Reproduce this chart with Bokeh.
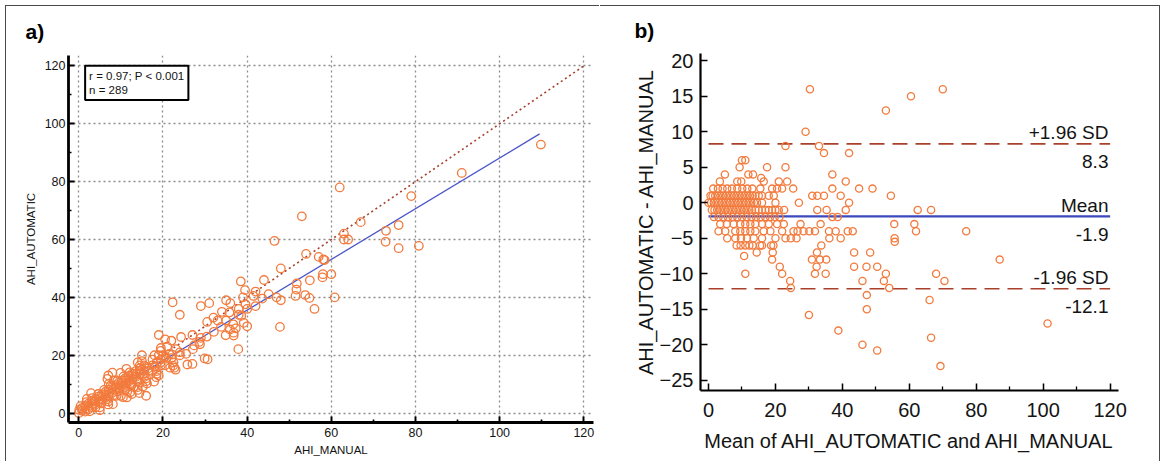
import numpy as np
from bokeh.plotting import figure
from bokeh.models import FixedTicker, Label, ColumnDataSource, Range1d
from bokeh.embed import file_html
from bokeh.resources import INLINE
from bokeh.core.properties import value

# ---------------- data ----------------
# paired AHI readings (manual scoring, automatic scoring); grouped by their difference
ahi_manual = [
    7, 8,
    6.8, 15, 20.5,
    2.9, 9.9, 11.3, 35,
    14,
    1.9, 7.1, 8.3, 15, 19.5, 22, 39.5,
    0.4, 1.8, 3.2, 4.6, 6, 7.6, 9.1, 10.6, 12.1, 14.5, 18, 19.5, 21, 24.3, 36, 44, 48,
    0.1, 0.7, 1.5, 2.3, 3.1, 3.9, 4.7, 5.5, 6.3, 7.1, 7.9, 8.7, 9.5, 10.3, 11.1, 11.9,
    12.7, 13.5, 14.5, 15.5, 17.5, 19, 30.5, 32, 34, 39, 54,
    0, 0.8, 1.6, 2.4, 3.2, 4, 4.8, 5.6, 6.4, 7.2, 8, 8.8, 9.6, 10.4, 11.2, 12, 12.8,
    13.6, 14.5, 16, 20, 27, 42,
    1.5, 2.3, 3.1, 3.9, 4.7, 5.5, 6.3, 7.1, 7.9, 8.7, 9.5, 10.3, 11.1, 11.9, 12.7, 13.5,
    14.5, 15.5, 16.5, 17.5, 18.5, 19.5, 20.5, 21.5, 23.1, 33, 35.8, 41.5, 63, 67,
    2.6, 4, 5.4, 6.8, 8.2, 9.6, 11, 12.4, 13.8, 15.2, 16.6, 18, 19.4, 20.8, 22.2, 38, 39.6,
    5, 7, 9, 11, 12.5, 14, 15.5, 17.5, 19.5, 22, 24, 29, 35, 57, 63,
    5, 7, 10, 11.5, 13, 14.5, 16, 18.5, 20.5, 24, 27.4, 28.6, 30.4, 32.1, 33.8, 38, 40,
    43.6, 45.1, 64, 79,
    8.1, 10.5, 12.2, 14, 16, 18.5, 22.5, 25.5, 27.1, 28.8, 38.6, 42, 58.1,
    58.4,
    11.4, 12.6, 14, 15.2, 16.2, 18.4, 19, 21.7, 22.4, 36.7,
    17.9, 22.7, 35.9, 47, 51.8,
    14.4,
    23, 34.9, 37.3, 39.2, 91,
    25.8, 36.8, 48, 51.7, 54.9,
    16, 27, 36.8, 40, 58, 73,
    29.9, 51.5, 57.9, 76,
    30.6, 60,
    53.8, 72.9, 54.8, 37.9, 109.8, 47.8, 76, 56, 60.8, 80.8,
    22.3, 53, 62, 46.5, 24, 19, 29, 31, 38.5,
]
ahi_automatic = [
    13, 14,
    11.8, 20, 25.5,
    6.9, 13.9, 15.3, 39,
    17.5,
    4.9, 10.1, 11.3, 18, 22.5, 25, 42.5,
    2.4, 3.8, 5.2, 6.6, 8, 9.6, 11.1, 12.6, 14.1, 16.5, 20, 21.5, 23, 26.3, 38, 46, 50,
    1.1, 1.7, 2.5, 3.3, 4.1, 4.9, 5.7, 6.5, 7.3, 8.1, 8.9, 9.7, 10.5, 11.3, 12.1, 12.9,
    13.7, 14.5, 15.5, 16.5, 18.5, 20, 31.5, 33, 35, 40, 55,
    0, 0.8, 1.6, 2.4, 3.2, 4, 4.8, 5.6, 6.4, 7.2, 8, 8.8, 9.6, 10.4, 11.2, 12, 12.8,
    13.6, 14.5, 16, 20, 27, 42,
    0.5, 1.3, 2.1, 2.9, 3.7, 4.5, 5.3, 6.1, 6.9, 7.7, 8.5, 9.3, 10.1, 10.9, 11.7, 12.5,
    13.5, 14.5, 15.5, 16.5, 17.5, 18.5, 19.5, 20.5, 22.1, 32, 34.8, 40.5, 62, 66,
    0.6, 2, 3.4, 4.8, 6.2, 7.6, 9, 10.4, 11.8, 13.2, 14.6, 16, 17.4, 18.8, 20.2, 36, 37.6,
    2, 4, 6, 8, 9.5, 11, 12.5, 14.5, 16.5, 19, 21, 26, 32, 54, 60,
    1, 3, 6, 7.5, 9, 10.5, 12, 14.5, 16.5, 20, 23.4, 24.6, 26.4, 28.1, 29.8, 34, 36,
    39.6, 41.1, 60, 75,
    3.1, 5.5, 7.2, 9, 11, 13.5, 17.5, 20.5, 22.1, 23.8, 33.6, 37, 53.1,
    52.9,
    5.4, 6.6, 8, 9.2, 10.2, 12.4, 13, 15.7, 16.4, 30.7,
    10.9, 15.7, 28.9, 40, 44.8,
    6.9,
    15, 26.9, 29.3, 31.2, 83,
    16.8, 27.8, 39, 42.7, 45.9,
    6, 17, 26.8, 30, 48, 63,
    18.9, 40.5, 46.9, 65,
    18.6, 48,
    40.8, 59.2, 39.8, 22.1, 92.8, 29.8, 57, 36, 40, 57.8,
    38.3, 68, 78, 59.5, 34, 27, 37, 38, 45.5,
]
identity_x = [0, 120]
identity_y = [0, 120]
fit_x = [0.3, 109.5]          # regression line ends
fit_y = [0.8, 96.5]
stats_text = "r = 0.97; P < 0.001\nn = 289"

loa_values = [8.3, -1.9, -12.1]           # +1.96 SD, mean, -1.96 SD
loa_titles = ["+1.96 SD", "Mean", "-1.96 SD"]
loa_numbers = ["8.3", "-1.9", "-12.1"]
loa_x = [0, 120]

scatter_ticks = [0, 20, 40, 60, 80, 100, 120]
scatter_minor = [10, 30, 50, 70, 90, 110]
ba_xticks = [0, 20, 40, 60, 80, 100, 120]
ba_xminor = [10, 30, 50, 70, 90, 110]
ba_yticks = [-25, -20, -15, -10, -5, 0, 5, 10, 15, 20]

# Bland-Altman coordinates from the pairs
m = np.array(ahi_manual, dtype=float)
a = np.array(ahi_automatic, dtype=float)
ba_mean = (m + a) / 2.0
ba_diff = a - m

FONT = "Liberation Sans"
ORANGE = "#f27b3d"
BLUE = "#3c48bd"
RED = "#a8402c"
INK = "#141414"
FRAME = "1px solid #4a4a4a"


def style_axis(ax, lw, tick_fs, lab_fs, tstand, lstand, tin, minin):
    ax.axis_line_color = "black"
    ax.axis_line_width = lw
    ax.major_tick_line_color = "black"
    ax.major_tick_line_width = lw * 0.7
    ax.minor_tick_line_color = "black"
    ax.minor_tick_line_width = lw * 0.6
    ax.major_tick_in = tin
    ax.major_tick_out = 0
    ax.minor_tick_in = minin
    ax.minor_tick_out = 0
    ax.major_label_text_font = FONT
    ax.major_label_text_font_size = tick_fs
    ax.major_label_text_color = INK
    ax.major_label_standoff = tstand
    ax.axis_label_text_font = FONT
    ax.axis_label_text_font_size = lab_fs
    ax.axis_label_text_font_style = "normal"
    ax.axis_label_text_color = INK
    ax.axis_label_standoff = lstand


def style_title(p, text, offset, standoff):
    p.title.text = text
    p.title.align = "left"
    p.title.vertical_align = "top"
    p.title.offset = offset
    p.title.standoff = standoff
    p.title.text_font = FONT
    p.title.text_font_size = "21px"
    p.title.text_font_style = "bold"
    p.title.text_color = "black"


# ---------------- panel a: scatter ----------------
pa = figure(width=594, height=456, output_backend="svg", toolbar_location=None,
            x_range=Range1d(-2.45, 122.3), y_range=Range1d(-3.25, 123.6),
            min_border_left=62, min_border_right=7, min_border_top=49, min_border_bottom=40,
            x_axis_label="AHI_MANUAL", y_axis_label="AHI_AUTOMATIC",
            styles={"position": "absolute", "left": "5px", "top": "5px",
                    "border-top": FRAME, "border-left": FRAME})
pa.outline_line_color = None
pa.xaxis.ticker = FixedTicker(ticks=scatter_ticks, minor_ticks=scatter_minor)
pa.yaxis.ticker = FixedTicker(ticks=scatter_ticks, minor_ticks=scatter_minor)
style_axis(pa.xaxis[0], 2.8, "12.5px", "11.5px", 5, 4, 6, 3)
style_axis(pa.yaxis[0], 2.8, "12.5px", "11.5px", 3, 5, 6, 3)
for g in (pa.xgrid[0], pa.ygrid[0]):
    g.grid_line_color = "#8c8c8c"
    g.grid_line_dash = "2 3"
    g.grid_line_width = 1.3
pa.xgrid.ticker = FixedTicker(ticks=scatter_ticks)
pa.ygrid.ticker = FixedTicker(ticks=scatter_ticks)
style_title(pa, "a)", -43, 22)

pa.line(identity_x, identity_y, line_color=RED, line_dash="2 3", line_width=1.6)
pa.line(fit_x, fit_y, line_color="#4b55c8", line_width=1.3)
pa.scatter(x=ahi_manual, y=ahi_automatic, marker="circle", size=8.5,
           fill_color=None, line_color=ORANGE, line_width=1.3)

pa.add_layout(Label(x=1.5, y=120.1, text=stats_text, text_font=FONT, text_font_size="11.5px",
                    text_color=INK, text_align="left", text_baseline="top",
                    padding=4, border_line_color="black", border_line_width=2,
                    background_fill_color="white", text_line_height=1.2))

# ---------------- panel b: Bland-Altman ----------------
pb = figure(width=560, height=456, output_backend="svg", toolbar_location=None,
            x_range=Range1d(-2.39, 122.5), y_range=Range1d(-26.44, 21.03),
            min_border_left=100, min_border_right=42, min_border_top=47, min_border_bottom=72,
            x_axis_label="Mean of AHI_AUTOMATIC and AHI_MANUAL",
            y_axis_label="AHI_AUTOMATIC - AHI_MANUAL",
            styles={"position": "absolute", "left": "600px", "top": "5px",
                    "border-top": FRAME, "border-right": FRAME})
pb.outline_line_color = None
pb.xgrid.visible = False
pb.ygrid.visible = False
pb.xaxis.ticker = FixedTicker(ticks=ba_xticks, minor_ticks=ba_xminor)
pb.yaxis.ticker = FixedTicker(ticks=ba_yticks)
style_axis(pb.xaxis[0], 2.2, "20px", "20px", 12, 10, 7, 4)
style_axis(pb.yaxis[0], 2.2, "20px", "20px", 7, 0, 7, 4)
style_title(pb, "b)", -66, 20)

pb.line(loa_x, [loa_values[0]] * 2, line_color=RED, line_dash="15 8", line_width=1.6)
pb.line(loa_x, [loa_values[2]] * 2, line_color=RED, line_dash="15 8", line_width=1.6)
pb.line(loa_x, [loa_values[1]] * 2, line_color=BLUE, line_width=2.2)
pb.scatter(x=ba_mean, y=ba_diff, marker="circle", size=7.2,
           fill_color=None, line_color=ORANGE, line_width=1.3)

title_src = ColumnDataSource(dict(x=[119.5] * 3, y=loa_values, t=loa_titles))
num_src = ColumnDataSource(dict(x=[119.5] * 3, y=loa_values, t=loa_numbers))
pb.text(x="x", y="y", text="t", source=title_src, text_align="right", text_baseline="middle",
        y_offset=-11, text_font=value(FONT), text_font_size="19px", text_color=INK)
pb.text(x="x", y="y", text="t", source=num_src, text_align="right", text_baseline="middle",
        y_offset=18, text_font=value(FONT), text_font_size="19px", text_color=INK)

open("out.html", "w").write(file_html([pa, pb], INLINE))
